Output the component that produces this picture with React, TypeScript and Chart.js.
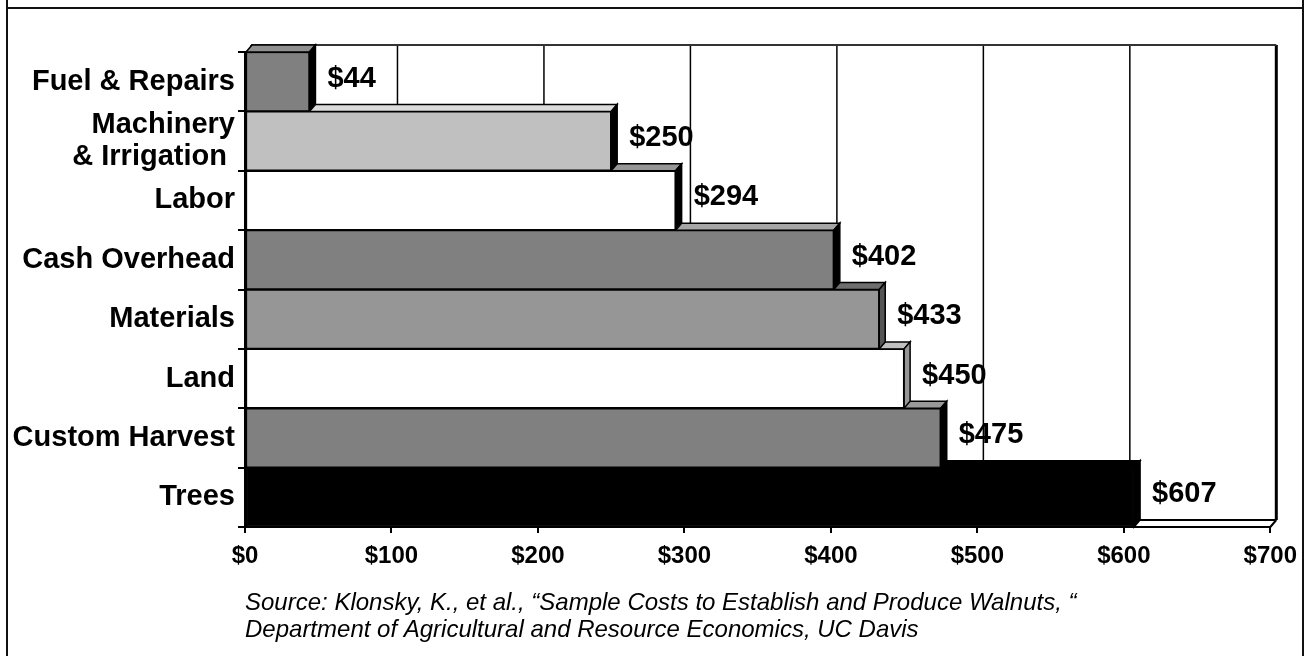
import React, { useEffect, useRef } from 'react';
import { Chart, registerables } from 'chart.js';

Chart.register(...registerables);

// ---------- data ----------
const categories: (string | string[])[] = [
  'Fuel & Repairs',
  ['Machinery', '& Irrigation '],
  'Labor',
  'Cash Overhead',
  'Materials',
  'Land',
  'Custom Harvest',
  'Trees',
];
const costValues = [44, 250, 294, 402, 433, 450, 475, 607];
const axisMin = 0;
const axisMax = 700;
const axisStep = 100;
const sourceLines = [
  'Source: Klonsky, K., et al., \u201cSample Costs to Establish and Produce Walnuts, \u201c',
  'Department of Agricultural and Resource Economics, UC Davis',
];

// ---------- styles ----------
const FONT = "'Liberation Sans', Arial, Helvetica, sans-serif";
const frontColors = ['#808080', '#c0c0c0', '#ffffff', '#808080', '#969696', '#ffffff', '#808080', '#000000'];
const topColors = ['#909090', '#dcdcdc', '#969696', '#a6a6a6', '#6e6e6e', '#c0c0c0', '#999999', '#000000'];
const sideColors = ['#000000', '#000000', '#000000', '#000000', '#555555', '#969696', '#000000', '#000000'];
const DX = 6;
const DY = 7;

const threeD = {
  id: 'threeD',
  beforeDraw(chart: any) {
    const { ctx, width, height } = chart;
    ctx.save();
    ctx.fillStyle = '#ffffff';
    ctx.fillRect(0, 0, width, height);
    ctx.strokeStyle = '#111';
    ctx.lineWidth = 2;
    ctx.beginPath();
    ctx.moveTo(7, 0);
    ctx.lineTo(7, height);
    ctx.moveTo(width - 3, 0);
    ctx.lineTo(width - 3, height);
    ctx.moveTo(7, 8);
    ctx.lineTo(width - 3, 8);
    ctx.stroke();
    ctx.restore();
  },
  beforeDatasetsDraw(chart: any) {
    const { ctx, chartArea: a, scales } = chart;
    const xs = scales.x;
    ctx.save();
    // back wall grid lines
    ctx.strokeStyle = '#000';
    for (let v = axisMin; v <= axisMax; v += axisStep) {
      const px = xs.getPixelForValue(v) + DX;
      ctx.lineWidth = v === axisMax ? 3 : 1.5;
      ctx.beginPath();
      ctx.moveTo(px, a.top - DY);
      ctx.lineTo(px, a.bottom - DY);
      ctx.stroke();
    }
    // top edge of back wall
    ctx.strokeStyle = '#333';
    ctx.lineWidth = 2;
    ctx.beginPath();
    ctx.moveTo(a.left + DX, a.top - DY);
    ctx.lineTo(a.right + DX, a.top - DY);
    ctx.stroke();
    // floor
    ctx.strokeStyle = '#000';
    ctx.beginPath();
    ctx.moveTo(a.left + DX, a.bottom - DY);
    ctx.lineTo(a.right + DX, a.bottom - DY);
    ctx.moveTo(a.right, a.bottom);
    ctx.lineTo(a.right + DX, a.bottom - DY);
    ctx.stroke();

    const meta = chart.getDatasetMeta(0);
    const els = meta.data.map((el: any) => el.getProps(['x', 'y', 'base', 'height'], true));
    ctx.lineJoin = 'miter';
    ctx.lineWidth = 1.5;
    ctx.strokeStyle = '#000';
    // top faces
    els.forEach((p: any, i: number) => {
      const top = p.y - p.height / 2;
      ctx.beginPath();
      ctx.moveTo(p.base, top);
      ctx.lineTo(p.base + DX, top - DY);
      ctx.lineTo(p.x + DX, top - DY);
      ctx.lineTo(p.x, top);
      ctx.closePath();
      ctx.fillStyle = topColors[i];
      ctx.fill();
      ctx.stroke();
    });
    // side faces
    els.forEach((p: any, i: number) => {
      const top = p.y - p.height / 2;
      const bottom = p.y + p.height / 2;
      ctx.beginPath();
      ctx.moveTo(p.x, top);
      ctx.lineTo(p.x + DX, top - DY);
      ctx.lineTo(p.x + DX, bottom - DY);
      ctx.lineTo(p.x, bottom);
      ctx.closePath();
      ctx.fillStyle = sideColors[i];
      ctx.fill();
      ctx.stroke();
    });
    ctx.restore();
  },
  afterDatasetsDraw(chart: any) {
    const { ctx } = chart;
    const meta = chart.getDatasetMeta(0);
    ctx.save();
    ctx.fillStyle = '#000';
    ctx.font = `bold 29px ${FONT}`;
    ctx.textAlign = 'left';
    ctx.textBaseline = 'middle';
    meta.data.forEach((el: any, i: number) => {
      const p = el.getProps(['x', 'y'], true);
      ctx.fillText('$' + costValues[i], p.x + 18, p.y - 3);
    });
    ctx.restore();
  },
};

export default function App() {
  const canvasRef = useRef<HTMLCanvasElement | null>(null);

  useEffect(() => {
    if (!canvasRef.current) return;
    const chart = new Chart(canvasRef.current, {
      type: 'bar',
      data: {
        labels: categories as any,
        datasets: [
          {
            data: costValues,
            backgroundColor: frontColors,
            borderColor: '#000',
            borderWidth: 1.5,
            borderSkipped: false,
            barPercentage: 1,
            categoryPercentage: 1,
          },
        ],
      },
      options: {
        indexAxis: 'y',
        responsive: false,
        animation: false,
        layout: { padding: { top: 52, right: 34, bottom: 12, left: 0 } },
        plugins: {
          legend: { display: false },
          tooltip: { enabled: false },
          title: {
            display: true,
            position: 'bottom',
            align: 'start',
            fullSize: false,
            text: sourceLines,
            color: '#000',
            font: { family: FONT, size: 24, style: 'italic', weight: 'normal', lineHeight: 1.125 },
            padding: { top: 13, bottom: 0 },
          },
        },
        scales: {
          x: {
            type: 'linear',
            min: axisMin,
            max: axisMax,
            position: 'bottom',
            ticks: {
              stepSize: axisStep,
              callback: (v: any) => '$' + v,
              color: '#000',
              font: { family: FONT, size: 24, weight: 'bold', lineHeight: 1.2 },
              padding: 9,
              maxRotation: 0,
              autoSkip: false,
            },
            grid: { drawOnChartArea: false, drawTicks: true, tickLength: 6, color: '#000', lineWidth: 2 },
            border: { display: true, color: '#000', width: 2 },
            afterFit: (s: any) => {
              s.height = 50;
            },
          },
          y: {
            type: 'category',
            ticks: {
              color: '#000',
              font: { family: FONT, size: 29, weight: 'bold', lineHeight: 1.1 },
              padding: 3,
              autoSkip: false,
            },
            grid: { offset: true, drawOnChartArea: false, drawTicks: true, tickLength: 7, color: '#000', lineWidth: 2 },
            border: { display: true, color: '#000', width: 2 },
            afterFit: (s: any) => {
              s.width = 245;
            },
          },
        },
      } as any,
      plugins: [threeD],
    });
    return () => chart.destroy();
  }, []);

  return (
    <div style={{ position: 'fixed', left: 0, top: 0, width: 1306, height: 656 }}>
      <canvas ref={canvasRef} width={1306} height={656} style={{ display: 'block' }} />
    </div>
  );
}
